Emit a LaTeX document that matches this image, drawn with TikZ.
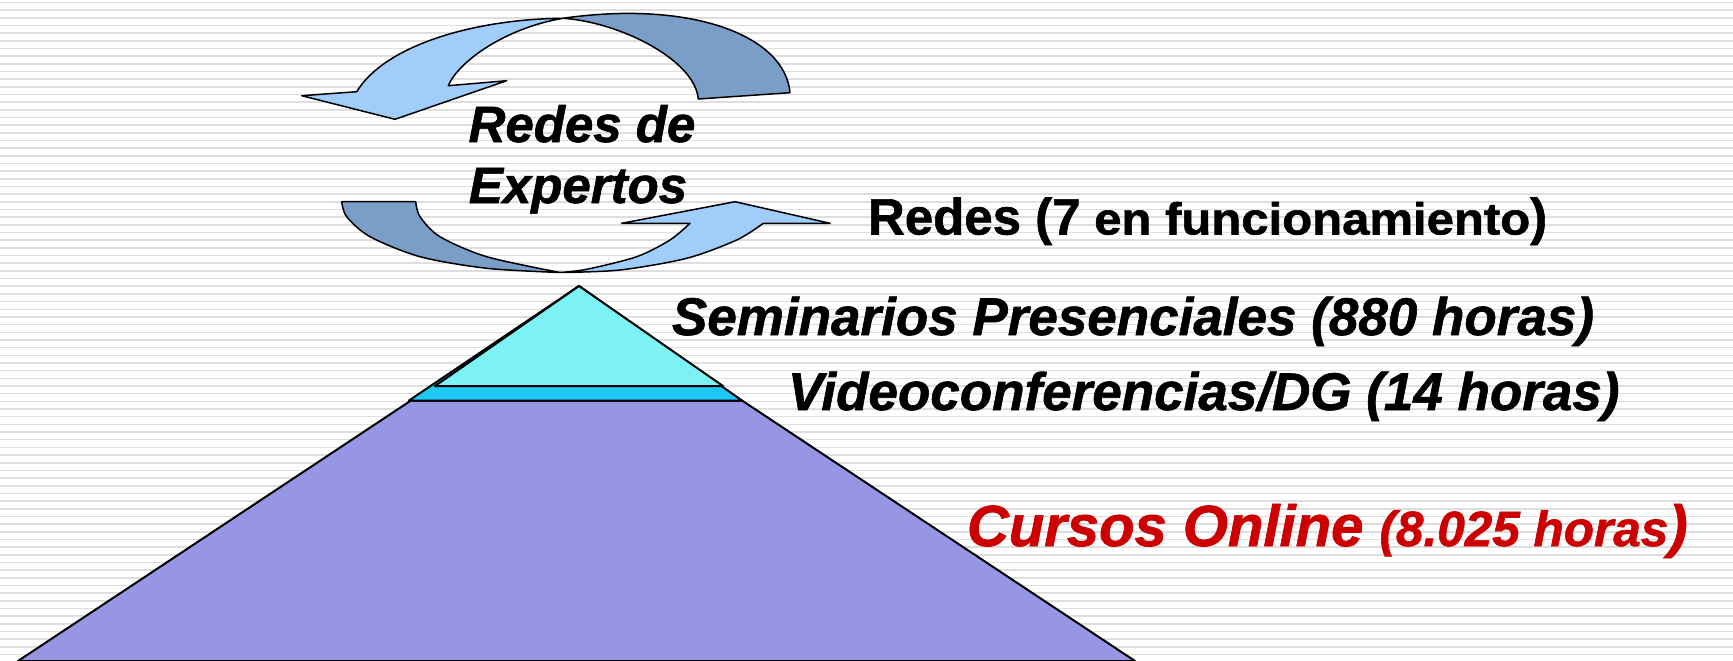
\documentclass[tikz,border=0pt]{standalone}
\usepackage{fontspec}
\setmainfont{Liberation Sans}[BoldFeatures={FakeBold=1.2}, BoldItalicFeatures={FakeBold=1.2}]
\definecolor{arrlight}{RGB}{160,205,250}
\definecolor{arrdark}{RGB}{122,158,200}
\definecolor{pyrbig}{RGB}{150,150,228}
\definecolor{pyrtop}{RGB}{125,242,245}
\definecolor{pyrband}{RGB}{30,200,245}
\definecolor{txtred}{RGB}{204,0,0}
\definecolor{bglinecol}{RGB}{222,222,222}
\tikzset{
  bgln/.style={draw=bglinecol, line width=1.6pt},
  arrowlight/.style={fill=arrlight, draw=black, line width=1.5pt, line join=round},
  arrowdark/.style={fill=arrdark, draw=black, line width=1.5pt, line join=round},
  pyr/.style={draw=black, line width=2pt, line join=round},
  lbl/.style={inner sep=0pt, outer sep=0pt},
  bolditfont/.style={font=\bfseries\itshape\fontsize{53}{60}\selectfont}
}
\begin{document}
\begin{tikzpicture}[x=1pt, y=-1pt]
\useasboundingbox (0,0) rectangle (1733,661);
\fill[white] (0,0) rectangle (1733,661);
\foreach \i in {0,...,86} {
  \draw[bgln] (0,{2.5+7.67*\i}) -- (1733,{2.5+7.67*\i});
}
% pyramid
\filldraw[pyr, fill=pyrbig] (411,400.5) -- (742,400.5) -- (1135,661) -- (18,661) -- cycle;
\filldraw[pyr, fill=pyrband] (579,286) -- (742,400.5) -- (409,400.5) -- cycle;
\filldraw[pyr, fill=pyrtop] (579,286) -- (723,386) -- (435,386) -- cycle;
% upper arrow
\filldraw[arrowdark] (563,18.3) .. controls (690,0) and (785,35) .. (790,92.7)
  -- (698.3,99) .. controls (695,60) and (620,22) .. (563,18.3) -- cycle;
\filldraw[arrowlight] (563,18.3) .. controls (475,19) and (385,45) .. (356.7,91.7)
  -- (301.7,95.7) -- (395,119.3) -- (506.7,80.7) -- (448.3,85.7)
  .. controls (458,62) and (505,28) .. (563,18.3) -- cycle;
% lower arrow
\filldraw[arrowdark] (341.7,201.7) -- (415.7,201.7)
  -- plot[smooth] coordinates {(415.7,201.7) (420,216.7) (440,236.7) (486.7,256.7) (560,272.5)}
  -- plot[smooth] coordinates {(560,272.5) (486.7,268.3) (420,256.7) (370,236.7) (346.7,216.7) (341.7,201.7)} -- cycle;
\filldraw[arrowlight] plot[smooth] coordinates {(560,272.5) (620,270) (686.7,258.3) (736.7,240) (763.3,223.3)}
  -- (830,223.3) -- (735,201.7) -- (621.7,223.3) -- (690,223.3)
  -- plot[smooth] coordinates {(690,223.3) (670,240) (636.7,256.7) (586.7,269.3) (560,272.5)} -- cycle;
% texts
\node[lbl, anchor=base, font=\bfseries\itshape\fontsize{51}{60}\selectfont] (exp1) at (582,142) {Redes de};
\node[lbl, anchor=base, font=\bfseries\itshape\fontsize{51}{60}\selectfont] (exp2) at (578,203) {Expertos};
\node[lbl, anchor=base west, font=\bfseries\fontsize{51}{60}\selectfont] (redes) at (868,234.5) {Redes (7\scalebox{1.09}[1]{\fontsize{45}{50}\selectfont\ en funcionamiento})};
\node[lbl, anchor=base west, bolditfont] (sem) at (672,335) {Seminarios Presenciales (880 horas)};
\node[lbl, anchor=base west, bolditfont] (video) at (788,410) {Videoconferencias/DG (14 horas)};
\node[lbl, anchor=base west, text=txtred, font=\bfseries\itshape\fontsize{58}{60}\selectfont] (cursos) at (967,546) {Cursos Online {\fontsize{49.5}{50}\selectfont(8.025 horas})};
\end{tikzpicture}
\end{document}
